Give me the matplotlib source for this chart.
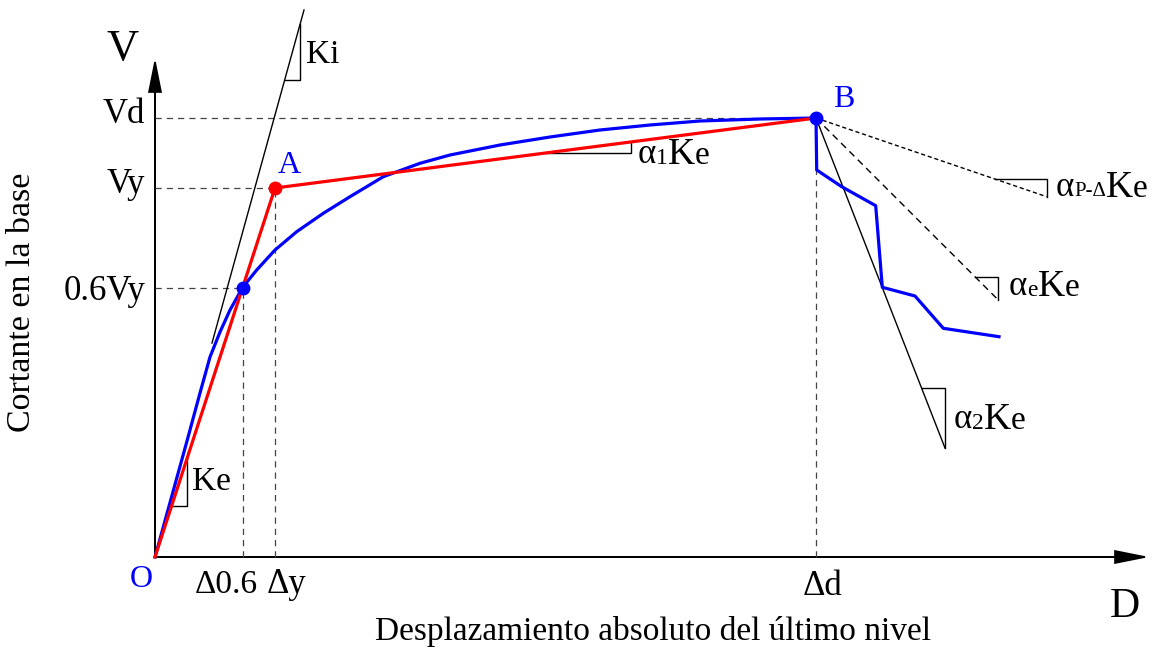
import numpy as np
import matplotlib
matplotlib.use("Agg")
import matplotlib.pyplot as plt

plt.rcParams["font.family"] = ["Liberation Serif", "DejaVu Serif"]

# diagram coordinates: origin O at the axes corner
# key levels and displacements
V_d = 439.0
V_y = 369.0
V_06 = 269.5
D_06 = 87.5
D_y = 120.0
D_d = 661.0

# capacity (pushover) curve, blue
curve_x = [0, 32, 45, 55, 65, 75, 87.7, 101.7, 120, 141.7, 168.3, 195, 228.3,
           265, 295, 345, 395, 445, 495, 545, 605, 661,
           661.7, 686.7, 720.7, 727.3, 760, 788.3, 844]
curve_y = [0, 116, 164, 200, 225, 247, 269.7, 287, 307, 325.3, 343.7, 360.3, 380.3,
           393.7, 402, 412, 420, 427, 432, 436, 438, 439,
           387, 370.3, 351.3, 269.7, 261, 228.7, 220.3]

# bilinear idealisation, red
bilin_x = [0, D_y, D_d]
bilin_y = [0, V_y, V_d]

# stiffness lines (start, end)
ki_line = [(57, 214), (149, 547)]
a2_line = [(D_d, V_d), (790, 109)]
apd_line = [(D_d, V_d), (891.7, 360.3)]
ae_line = [(D_d, V_d), (843.3, 257)]

# slope triangle corners
ki_corner = (145, 477)
ke_corner = (32, 51)
a1_corner = (476, 404)
a2_corner = (790, 169)
apd_corner = (891.7, 378)
ae_corner = (843.3, 280.3)


def slope_triangle(ax, p0, p1, corner, **kw):
    (x0, y0), (x1, y1) = p0, p1
    cx, cy = corner
    xa = x0 + (cy - y0) * (x1 - x0) / (y1 - y0)
    yb = y0 + (cx - x0) * (y1 - y0) / (x1 - x0)
    ax.plot([xa, cx, cx], [cy, cy, yb], color="k", lw=1.0, **kw)


def multi_text(ax, x, y, parts, color="k", ha="left"):
    # pieces of different size set on one baseline
    t = ax.text(x, y, parts[0][0], fontsize=parts[0][1], color=color,
                va="baseline", ha=ha)
    prev = parts[0][1]
    for s, fs in parts[1:]:
        t = ax.annotate(s, xy=(1, 0), xycoords=t, fontsize=fs, color=color,
                        xytext=(0, 0.216 * (prev - fs)), textcoords="offset points",
                        va="bottom", ha="left")
        prev = fs
    return t


fig = plt.figure(figsize=(11.57, 6.52), dpi=100)
ax = fig.add_axes([0, 0, 1, 1])
ax.set_xlim(-155, 1002)
ax.set_ylim(-95, 557)
ax.axis("off")

# axes with arrows
ax.arrow(0, 0, 0, 495, head_width=12, head_length=30, length_includes_head=True,
         fc="k", ec="k", lw=1.2)
ax.arrow(0, 0, 990, 0, head_width=12, head_length=30, length_includes_head=True,
         fc="k", ec="k", lw=1.2)

# dashed reference lines
ref = dict(color="#444444", lw=0.9, dashes=(5, 4))
ax.plot([0, D_d], [V_d, V_d], **ref)
ax.plot([0, D_y], [V_y, V_y], **ref)
ax.plot([0, D_06], [V_06, V_06], **ref)
ax.plot([D_06, D_06], [0, V_06], **ref)
ax.plot([D_y, D_y], [0, V_y], **ref)
ax.plot([D_d, D_d], [0, V_d], **ref)

# stiffness lines
ax.plot(*zip(*ki_line), color="k", lw=1.0)
ax.plot(*zip(*a2_line), color="k", lw=1.0)
ax.plot(*zip(*apd_line), color="k", lw=1.0, dashes=(3, 2))
ax.plot(*zip(*ae_line), color="k", lw=1.0, dashes=(5, 3.5))

slope_triangle(ax, ki_line[0], ki_line[1], ki_corner)
slope_triangle(ax, (0, 0), (D_y, V_y), ke_corner)
slope_triangle(ax, (D_y, V_y), (D_d, V_d), a1_corner)
slope_triangle(ax, a2_line[0], a2_line[1], a2_corner)
slope_triangle(ax, apd_line[0], apd_line[1], apd_corner)
slope_triangle(ax, ae_line[0], ae_line[1], ae_corner)

# curves
ax.plot(curve_x, curve_y, color="#0000ff", lw=2.3, solid_joinstyle="round", zorder=4)
ax.plot(bilin_x, bilin_y, color="#ff0000", lw=2.3, zorder=5)
ax.plot([D_y], [V_y], "o", color="#ff0000", ms=9, zorder=6)
ax.plot([D_06, D_d], [V_06, V_d], "o", color="#0000ff", ms=9, zorder=6)

# labels
ax.text(-32, 497, "V", fontsize=32, va="baseline", ha="center")
ax.text(970, -60, "D", fontsize=30, va="baseline", ha="center")
ax.text(-10, 434, "Vd", fontsize=25, va="baseline", ha="right")
ax.text(-10, 364, "Vy", fontsize=25, va="baseline", ha="right")
ax.text(-10, 257, "0.6Vy", fontsize=25, va="baseline", ha="right")
ax.text(40, -36, "Δ0.6", fontsize=24, va="baseline", ha="left")
ax.text(112, -36, "Δy", fontsize=25, va="baseline", ha="left")
ax.text(648, -38, "Δd", fontsize=25, va="baseline", ha="left")
ax.text(134, 384, "A", fontsize=23, va="baseline", ha="center", color="#0000ff")
ax.text(689, 450, "B", fontsize=23, va="baseline", ha="center", color="#0000ff")
ax.text(-14, -30, "O", fontsize=23, va="baseline", ha="center", color="#0000ff")
ax.text(151, 494, "Ki", fontsize=24, va="baseline", ha="left")
ax.text(37, 67, "Ke", fontsize=24, va="baseline", ha="left")

multi_text(ax, 483, 394, [("α", 25), ("1", 17), ("K", 27), ("e", 24)])
multi_text(ax, 799, 129, [("α", 25), ("2", 17), ("K", 27), ("e", 24)])
multi_text(ax, 854, 262, [("α", 25), ("e", 17), ("K", 27), ("e", 24)])
multi_text(ax, 901, 361, [("α", 25), ("P-Δ", 15), ("K", 27), ("e", 24)])

ax.text(498, -83, "Desplazamiento absoluto del último nivel", fontsize=24,
        va="baseline", ha="center")
ax.text(-133, 255, "Cortante en la base", fontsize=24.5, rotation=90,
        va="center", ha="center")

fig.savefig("out.png", dpi=100)
